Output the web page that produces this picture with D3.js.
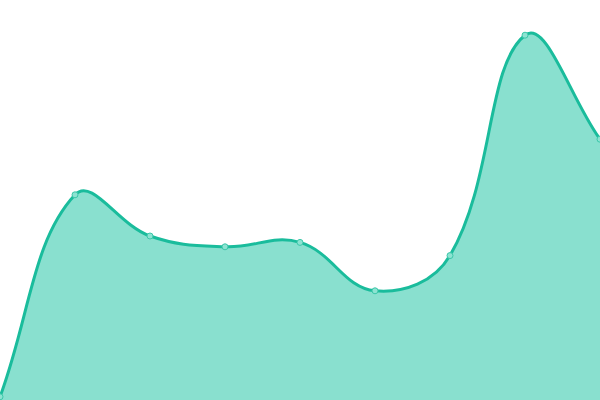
<html>
<head>
<meta charset='utf-8'>
<script src='https://d3js.org/d3.v7.min.js'></script>
<style>
body { margin: 0; background: white; }
</style>
</head>
<body>
<svg width=600 height=400></svg>
<script>
const labels = ['1', '2', '3', '4', '5', '6', '7', '8', '9']
const values = [0.8, 51.3, 41, 38.3, 39.4, 27.3, 36.1, 91.2, 65.2]

const width = 600
const height = 400
const data = labels.map((l, i) => ({ label: l, value: values[i] }))

const x = d3.scalePoint().domain(labels).range([0, width])
const y = d3.scaleLinear().domain([0, 100]).range([height, 0])

// spline with distance weighted control points (tension 0.4), capped to the chart area
function splineCurve(context) {
	let pts = []
	let line = NaN
	const t = 0.4
	const cap = (v, lo, hi) => Math.max(lo, Math.min(hi, v))
	return {
		areaStart() { line = 0 },
		areaEnd() { line = NaN },
		lineStart() { pts = [] },
		point(px, py) { pts.push([+px, +py]) },
		lineEnd() {
			const n = pts.length
			const cps = pts.map((p, i) => {
				const prev = pts[Math.max(0, i - 1)]
				const next = pts[Math.min(n - 1, i + 1)]
				const d01 = Math.hypot(p[0] - prev[0], p[1] - prev[1])
				const d12 = Math.hypot(next[0] - p[0], next[1] - p[1])
				let s01 = d01 / (d01 + d12)
				let s12 = d12 / (d01 + d12)
				if (isNaN(s01)) s01 = 0
				if (isNaN(s12)) s12 = 0
				const fa = t * s01
				const fb = t * s12
				return {
					px: cap(p[0] - fa * (next[0] - prev[0]), 0, width),
					py: cap(p[1] - fa * (next[1] - prev[1]), 0, height),
					nx: cap(p[0] + fb * (next[0] - prev[0]), 0, width),
					ny: cap(p[1] + fb * (next[1] - prev[1]), 0, height)
				}
			})
			pts.forEach((p, i) => {
				if (i === 0) {
					line ? context.lineTo(p[0], p[1]) : context.moveTo(p[0], p[1])
				} else {
					context.bezierCurveTo(cps[i - 1].nx, cps[i - 1].ny, cps[i].px, cps[i].py, p[0], p[1])
				}
			})
			if (line || (line !== 0 && n === 1)) context.closePath()
			line = 1 - line
		}
	}
}

const svg = d3.select('svg')

svg.append('path')
	.datum(data)
	.attr('fill', '#89e0cf')
	.attr('d', d3.area().x(d => x(d.label)).y0(height).y1(d => y(d.value)).curve(splineCurve))

svg.append('path')
	.datum(data)
	.attr('fill', 'none')
	.attr('stroke', '#1abc9c')
	.attr('stroke-width', 3)
	.attr('d', d3.line().x(d => x(d.label)).y(d => y(d.value)).curve(splineCurve))

svg.selectAll('circle').data(data).enter().append('circle')
	.attr('cx', d => x(d.label))
	.attr('cy', d => y(d.value))
	.attr('r', 3)
	.attr('fill', '#8de3d2')
	.attr('stroke', '#3cc7a9')
	.attr('stroke-width', 1)
</script>
</body>
</html>
